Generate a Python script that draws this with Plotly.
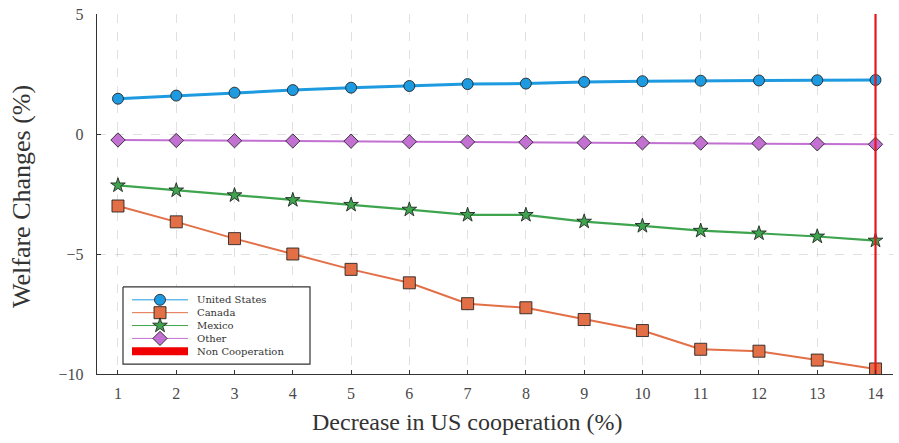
import plotly.graph_objects as go

# Decrease in US cooperation (%)
decrease = [1, 2, 3, 4, 5, 6, 7, 8, 9, 10, 11, 12, 13, 14]

# Welfare changes (%) by region
united_states = [1.47, 1.60, 1.72, 1.83, 1.93, 2.00, 2.08, 2.10, 2.17, 2.20, 2.22, 2.23, 2.24, 2.25]
canada = [-3.00, -3.66, -4.36, -5.00, -5.64, -6.20, -7.07, -7.24, -7.73, -8.19, -8.97, -9.05, -9.42, -9.79]
mexico = [-2.14, -2.35, -2.55, -2.75, -2.95, -3.15, -3.37, -3.37, -3.65, -3.83, -4.03, -4.14, -4.27, -4.44]
other = [-0.25, -0.27, -0.28, -0.29, -0.30, -0.32, -0.33, -0.34, -0.36, -0.37, -0.38, -0.39, -0.41, -0.43]

non_cooperation_x = 14
y_limits = [-10, 5]
y_ticks = [-10, -5, 0, 5]
y_tick_text = ["\u221210", "\u22125", "0", "5"]

FONT = "Liberation Serif"
LEGEND_FONT = "DejaVu Serif"
INK = "#333333"
OUTLINE = "rgba(30,30,30,0.85)"

W, H = 899, 443
ML, MR, MT, MB = 97, 6, 10, 69

series = [
    ("United States", united_states, "#1E9BE0", "circle", 11, 3.0),
    ("Canada", canada, "#E36F47", "square", 12, 2.0),
    ("Mexico", mexico, "#3EA44E", "star", 11, 2.2),
    ("Other", other, "#C271D2", "diamond", 11, 2.0),
]

fig = go.Figure()
for name, vals, color, symbol, size, lw in series:
    fig.add_trace(go.Scatter(
        x=decrease, y=vals, name=name, mode="lines+markers",
        line=dict(color=color, width=lw),
        marker=dict(symbol=symbol, size=size, color=color,
                    line=dict(color=OUTLINE, width=1)),
        showlegend=False,
    ))

# vertical marker at the non-cooperation point
fig.add_trace(go.Scatter(
    x=[non_cooperation_x, non_cooperation_x], y=y_limits, mode="lines",
    line=dict(color="#E8141B", width=2.2), showlegend=False, hoverinfo="skip",
))

# ---- legend box, drawn on a pixel-space overlay axis ----
box = dict(x0=123, x1=310, y0=286, y1=364)
row_y = [299, 312, 325, 338, 351]
sample_x = [132, 188]
marker_x = 160
text_x = 196

fig.add_trace(go.Scatter(
    x=[box["x0"], box["x1"], box["x1"], box["x0"], box["x0"]],
    y=[box["y0"], box["y0"], box["y1"], box["y1"], box["y0"]],
    mode="lines", fill="toself", fillcolor="white",
    line=dict(color=INK, width=1.2), xaxis="x2", yaxis="y2",
    showlegend=False, hoverinfo="skip",
))
for (name, _, color, symbol, size, _), ry in zip(series, row_y):
    fig.add_trace(go.Scatter(
        x=sample_x, y=[ry, ry], mode="lines", line=dict(color=color, width=1),
        xaxis="x2", yaxis="y2", showlegend=False, hoverinfo="skip",
    ))
    fig.add_trace(go.Scatter(
        x=[marker_x], y=[ry], mode="markers",
        marker=dict(symbol=symbol, size=size, color=color,
                    line=dict(color=OUTLINE, width=1)),
        xaxis="x2", yaxis="y2", showlegend=False, hoverinfo="skip",
    ))
fig.add_trace(go.Scatter(
    x=sample_x, y=[row_y[4], row_y[4]], mode="lines",
    line=dict(color="#F00000", width=8),
    xaxis="x2", yaxis="y2", showlegend=False, hoverinfo="skip",
))
legend_names = [s[0] for s in series] + ["Non Cooperation"]
for name, ry in zip(legend_names, row_y):
    fig.add_annotation(
        x=text_x, y=ry, xref="x2", yref="y2", text=name, showarrow=False,
        xanchor="left", yanchor="middle", borderpad=0,
        font=dict(family=LEGEND_FONT, size=10, color=INK),
    )

axis_common = dict(
    showline=True, linecolor=INK, linewidth=1.4,
    ticks="inside", ticklen=4, tickcolor=INK, tickwidth=1,
    showgrid=True, gridcolor="rgba(0,0,0,0.12)", griddash="dash", gridwidth=1,
    zeroline=False, mirror=False,
    tickfont=dict(family=FONT, size=16, color="#4a4a4a"),
)

fig.update_layout(
    width=W, height=H,
    margin=dict(l=ML, r=MR, t=MT, b=MB),
    plot_bgcolor="white", paper_bgcolor="white",
    font=dict(family=FONT, color=INK),
    showlegend=False,
    xaxis=dict(**axis_common, range=[0.64, 14.3], tickvals=decrease,
               ticklabelstandoff=5),
    yaxis=dict(**axis_common, range=y_limits, tickvals=y_ticks,
               ticktext=y_tick_text, ticklabelstandoff=9),
    xaxis2=dict(overlaying="x", range=[ML, W - MR], visible=False,
                fixedrange=True),
    yaxis2=dict(overlaying="y", range=[H - MB, MT], visible=False,
                fixedrange=True),
)

# axis titles
fig.add_annotation(
    x=(467 - ML) / (W - ML - MR), y=-(423 - (H - MB)) / (H - MT - MB),
    xref="paper", yref="paper", text="Decrease in US cooperation (%)",
    showarrow=False, xanchor="center", yanchor="middle",
    font=dict(family=FONT, size=24, color=INK),
)
fig.add_annotation(
    x=-(ML - 22) / (W - ML - MR), y=(H - MB - 195) / (H - MT - MB),
    xref="paper", yref="paper", text="Welfare Changes (%)", textangle=-90,
    showarrow=False, xanchor="center", yanchor="middle",
    font=dict(family=FONT, size=26, color=INK),
)

fig.write_html("out.html")
